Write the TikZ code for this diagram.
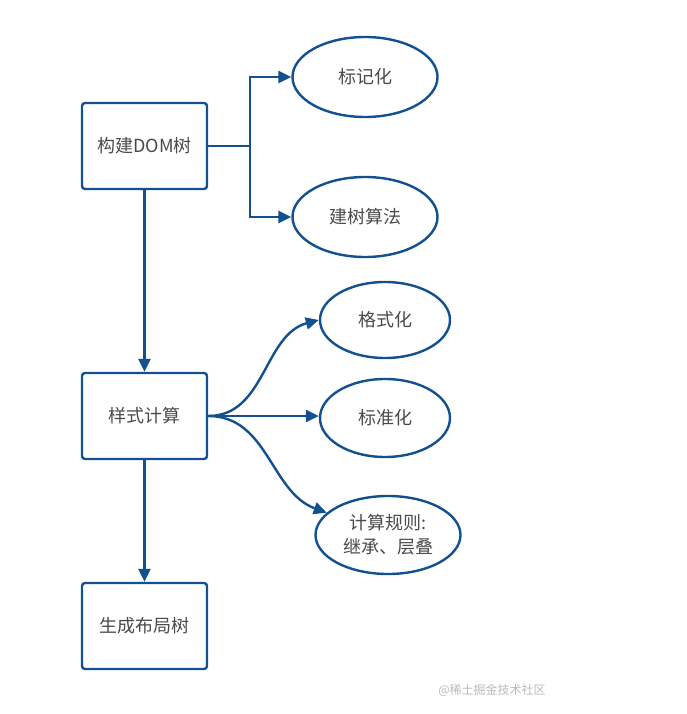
\documentclass[tikz,border=0pt]{standalone}
\usepackage{fontspec}
\setmainfont{Noto Sans CJK SC}
\usetikzlibrary{arrows.meta,shapes.geometric}
\definecolor{flowblue}{HTML}{12508F}
\definecolor{txtgray}{HTML}{4A4A4A}
\tikzset{
  stepbox/.style={draw=flowblue,line width=2.4pt,rounded corners=3pt,fill=white,
    minimum width=125pt,minimum height=86pt,text=txtgray,font=\fontsize{18}{22}\selectfont},
  leaf/.style={draw=flowblue,line width=2.4pt,ellipse,fill=white,text=txtgray,
    font=\fontsize{18}{24}\selectfont,align=center,inner sep=0pt},
  flow/.style={draw=flowblue,line width=2.4pt,-{Triangle[length=13pt,width=12pt]}}
}
\begin{document}
\begin{tikzpicture}[x=1pt,y=-1pt]
		\useasboundingbox (0,0) rectangle (687,714);
		\path
		(144.5,146) node[stepbox] (dom) {构建DOM树}
		(144.5,416) node[stepbox] (style) {样式计算}
		(144.5,626) node[stepbox] (layout) {生成布局树}
		(365,77) node[leaf,minimum width=145pt,minimum height=80pt] (token) {标记化}
		(365,217) node[leaf,minimum width=145pt,minimum height=80pt] (build) {建树算法}
		(385,320) node[leaf,minimum width=130pt,minimum height=76pt] (fmt) {格式化}
		(385,418) node[leaf,minimum width=130pt,minimum height=78pt] (norm) {标准化}
		(388,535) node[leaf,minimum width=145pt,minimum height=78pt] (rule) {计算规则:\\继承、层叠}
		(250,146) coordinate (fork)
		(492,690) node[text=gray!55,font=\fontsize{12}{14}\selectfont] (mark) {@稀土掘金技术社区}
		;
		\draw[flow] (dom.east) -- (fork) |- (token.west);
		\draw[flow] (fork) |- (build.west);
		\draw[flow] (dom.south) -- (style.north);
		\draw[flow] (style.south) -- (layout.north);
		\draw[flow] (style.east) to[out=0,in=195] (fmt.west);
		\draw[flow] (style.east) -- (norm.west |- style.east);
		\draw[flow] (style.east) to[out=0,in=160] (rule.160);
	
\end{tikzpicture}
\end{document}
